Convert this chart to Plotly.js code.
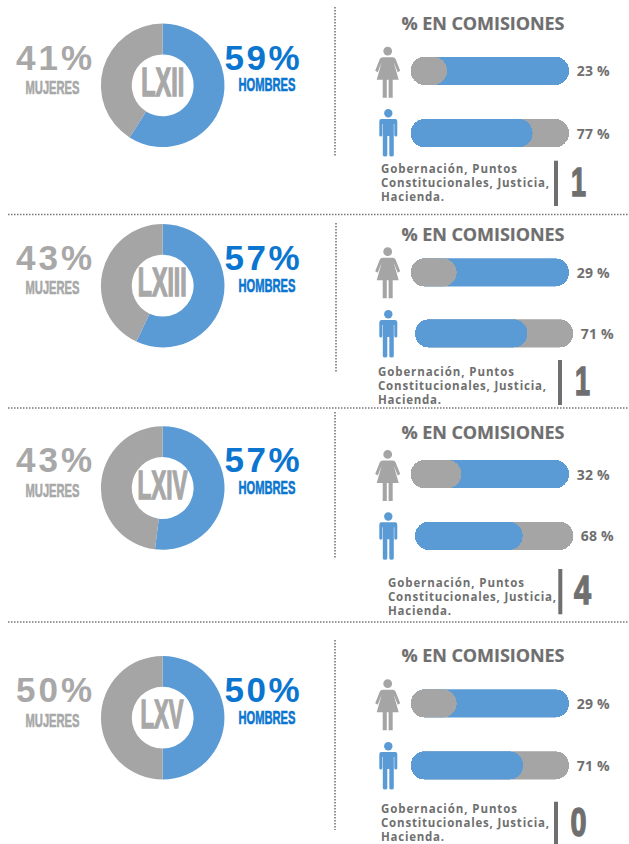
<!DOCTYPE html>
<html>
<head>
<meta charset="utf-8">
<script src="https://cdn.plot.ly/plotly-3.0.1.min.js"></script>
<style>html,body{margin:0;padding:0;background:#fff;overflow:hidden}</style>
</head>
<body>
<div id="chart" style="width:629px;height:844px"></div>
<script>
// ---- data ----
const legislaturas = ["LXII", "LXIII", "LXIV", "LXV"];
const etiquetaMujeres = ["41%", "43%", "43%", "50%"];
const etiquetaHombres = ["59%", "57%", "57%", "50%"];
const donaHombres = [59, 57, 52, 50];
const donaMujeres = [41, 43, 48, 50];
const comisionesMujeres = [23, 29, 32, 29];
const comisionesHombres = [77, 71, 68, 71];
const presidencias = ["1", "1", "4", "0"];
const tituloComisiones = "% EN COMISIONES";
const comisionesLineas = ["Gobernación, Puntos", "Constitucionales, Justicia,", "Hacienda."];

// ---- layout geometry (pixels), one entry per panel ----
const W = 629, H = 844;
const donutCy = [85.3, 285.7, 488, 717.7];
const pctCy = [57, 257.5, 459.5, 689.5];
const mujCy = [88.5, 288, 490.7, 721];
const homCy = [85, 285.7, 488.3, 718.3];
const romCy = [81.5, 282, 485, 714];
const romW = [43, 49, 50, 43];
const titCy = [23, 234, 432, 654.5];
const barTop = [[56.7, 119], [258.3, 319.3], [460, 521.7], [689.3, 751.3]];
const barLeft = [[410.7, 410.7], [410.7, 415], [410.7, 415], [410.7, 410.7]];
const iconTop = [[46.7, 109], [247.3, 310], [450, 512.3], [679.3, 742]];
const txtX = [380, 377.3, 386.7, 380];
const txtY = [[169.3, 183.3, 197.3], [371.8, 385.8, 399.8], [582.5, 596.5, 610.5], [809.1, 823.1, 837.1]];
const sepX = [556, 560, 560.3, 556];
const sepY = [[160.7, 206], [360, 405], [569, 614.3], [801.7, 850]];
const numX = [578, 582.3, 582.3, 578.3];
const numY = [182, 381, 590, 822];
const numW = [15, 15, 17, 16];
const vDot = [[335, 7, 157], [336, 223, 373], [335, 412, 559], [335, 640, 830]];
const hDot = [214.5, 408, 622];

const BLUE = "#5b9bd5", GRAY = "#a5a5a5", TBLUE = "#0b75cf", TGRAY = "#a8a8a8", DARK = "#6f6f6f";
const BODY = "Liberation Sans", OPEN = "Open Sans";

const px = x => x / W, py = y => 1 - y / H;
const data = [], shapes = [], annotations = [], fits = [];
const layout = {
  width: W, height: H, margin: {l: 0, r: 0, t: 0, b: 0, pad: 0},
  paper_bgcolor: "#fff", plot_bgcolor: "rgba(0,0,0,0)",
  showlegend: false, barmode: "overlay", bargap: 0, hovermode: false
};

function txt(text, x, y, anchor, family, size, weight, color, width, adjust, stroke, boxH) {
  const a = {
    text, xref: "paper", yref: "paper", x: px(x), y: py(y), xanchor: anchor, yanchor: "middle",
    showarrow: false, borderpad: 0, align: anchor,
    font: {family, size, weight, color}
  };
  if (boxH) { a.height = boxH; a.width = width + 4; }
  annotations.push(a);
  fits.push({width, adjust, stroke, color});
}
function pathShape(pts, color) {
  shapes.push({type: "path", xref: "paper", yref: "paper", path: pts, fillcolor: color, line: {width: 0}, layer: "above"});
}
function iconPath(cx, top, cmds) {
  return cmds.map(c => c[0] + c.slice(1).map((v, i) => (i % 2 === 0 ? px(cx + v) : py(top + v)).toFixed(5)).join(",")).join(" ") + " Z";
}
function head(cx, cy, r, color) {
  shapes.push({type: "circle", xref: "paper", yref: "paper", x0: px(cx - r), x1: px(cx + r), y0: py(cy + r), y1: py(cy - r), fillcolor: color, line: {width: 0}});
}
const WOMAN = [["M",-5,10.5],["L",5,10.5],["Q",7,10.5,8,12.5],["L",12.5,24],["L",10,25.5],["L",6,15.5],["L",11,33],["L",5,33],["L",5,51],["L",0.9,51],["L",0.9,33],["L",-0.9,33],["L",-0.9,51],["L",-5,51],["L",-5,33],["L",-11,33],["L",-6,15.5],["L",-10,25.5],["L",-12.5,24],["L",-8,12.5],["Q",-7,10.5,-5,10.5]];
const MAN = [["M",-7,10],["L",7,10],["Q",9,10,9,12.5],["L",9,26],["Q",9,27.5,7.5,27.5],["Q",6,27.5,6,26],["L",6,15],["L",5.5,15],["L",5.5,46],["Q",5.5,47.5,3.2,47.5],["Q",1,47.5,1,46],["L",1,27],["L",-1,27],["L",-1,46],["Q",-1,47.5,-3.2,47.5],["Q",-5.5,47.5,-5.5,46],["L",-5.5,15],["L",-6,15],["L",-6,26],["Q",-6,27.5,-7.5,27.5],["Q",-9,27.5,-9,26],["L",-9,12.5],["Q",-9,10,-7,10]];

let axisN = 0;
// A bar with an explicit base rounds both of its ends, which gives a capsule.
function capsule(v, s, c) {
  data.push({
    type: "bar", orientation: "h", x: [v], base: [0], y: [0], width: 1,
    xaxis: "x" + s, yaxis: "y" + s,
    marker: {color: c, cornerradius: 14, line: {width: 0}}, hoverinfo: "skip", textposition: "none"
  });
}
function pill(left, top, back, front, backColor, frontColor) {
  axisN++;
  const s = axisN === 1 ? "" : axisN;
  layout["xaxis" + s] = {domain: [px(left), px(left + 158.3)], range: [0, 100], visible: false, fixedrange: true, anchor: "y" + s};
  layout["yaxis" + s] = {domain: [py(top + 28.3), py(top)], range: [-0.5, 0.5], visible: false, fixedrange: true, anchor: "x" + s};
  capsule(back, s, backColor);
  capsule(front, s, frontColor);
}

legislaturas.forEach((leg, i) => {
  const R = 61.8, cx = 162.7, cy = donutCy[i];
  data.push({
    type: "pie", values: [donaHombres[i], donaMujeres[i]], labels: ["Hombres", "Mujeres"],
    sort: false, direction: "clockwise", rotation: 0, hole: 0.5, textinfo: "none", hoverinfo: "skip",
    marker: {colors: [BLUE, GRAY], line: {width: 0}},
    domain: {x: [px(cx - R), px(cx + R)], y: [py(cy + R), py(cy - R)]}
  });
  txt(etiquetaMujeres[i], 54, pctCy[i], "center", BODY, 35, 700, TGRAY, 76, "spacing", 0);
  txt("MUJERES", 52.2, mujCy[i], "center", BODY, 18, 700, TGRAY, 54, "spacingAndGlyphs", 0.6);
  txt(etiquetaHombres[i], 262, pctCy[i], "center", BODY, 35, 700, TBLUE, 75, "spacing", 0);
  txt("HOMBRES", 267.3, homCy[i], "center", BODY, 18, 700, TBLUE, 57, "spacingAndGlyphs", 0.6);
  txt(leg, 162, romCy[i], "center", BODY, 40, 700, TGRAY, romW[i], "spacingAndGlyphs", 1.5);
  txt(tituloComisiones, 483.3, titCy[i], "center", OPEN, 18, 700, DARK, 163, "spacing", 0.2);

  pill(barLeft[i][0], barTop[i][0], 100, comisionesMujeres[i], BLUE, GRAY);
  pill(barLeft[i][1], barTop[i][1], 100, comisionesHombres[i], GRAY, BLUE);
  txt(comisionesMujeres[i] + " %", barLeft[i][0] + 182.6, barTop[i][0] + 14.2, "center", OPEN, 14, 700, DARK, 33, "spacing", 0);
  txt(comisionesHombres[i] + " %", barLeft[i][1] + 182.6, barTop[i][1] + 14.2, "center", OPEN, 14, 700, DARK, 33, "spacing", 0);

  pathShape(iconPath(387.7, iconTop[i][0], WOMAN), GRAY);
  head(387.7, iconTop[i][0] + 4.4, 4.4, GRAY);
  pathShape(iconPath(388.3, iconTop[i][1], MAN), BLUE);
  head(388.3, iconTop[i][1] + 4.2, 4.2, BLUE);

  comisionesLineas.forEach((line, k) => {
    const w = [136, 168, 63][k];
    txt(line, txtX[i], txtY[i][k], "left", OPEN, 11.5, 700, DARK, w, "spacing", 0, 13.8);
  });
  shapes.push({type: "rect", xref: "paper", yref: "paper", x0: px(sepX[i] - 2), x1: px(sepX[i] + 2), y0: py(sepY[i][1]), y1: py(sepY[i][0]), fillcolor: DARK, line: {width: 0}});
  txt(presidencias[i], numX[i], numY[i], "center", BODY, 41, 700, DARK, numW[i], "spacingAndGlyphs", 1.5);

  const v = vDot[i];
  shapes.push({type: "line", xref: "paper", yref: "paper", x0: px(v[0]), x1: px(v[0]), y0: py(v[1]), y1: py(v[2]), line: {color: "#777", width: 1.6, dash: "1.5px,1.5px"}});
});
hDot.forEach(y => shapes.push({type: "line", xref: "paper", yref: "paper", x0: px(8), x1: 1, y0: py(y), y1: py(y), line: {color: "#777", width: 1.6, dash: "1.5px,1.5px"}}));

layout.shapes = shapes;
layout.annotations = annotations;

Plotly.newPlot("chart", data, layout, {displayModeBar: false, staticPlot: true}).then(() => {
  document.querySelectorAll("#chart .annotation").forEach(g => {
    const f = fits[+g.getAttribute("data-index")];
    const t = g.querySelector("text");
    if (f && t) {
      t.setAttribute("textLength", f.width);
      t.setAttribute("lengthAdjust", f.adjust);
      if (f.stroke) { t.style.stroke = f.color; t.style.strokeWidth = f.stroke + "px"; }
    }
  });
});
</script>
</body>
</html>
